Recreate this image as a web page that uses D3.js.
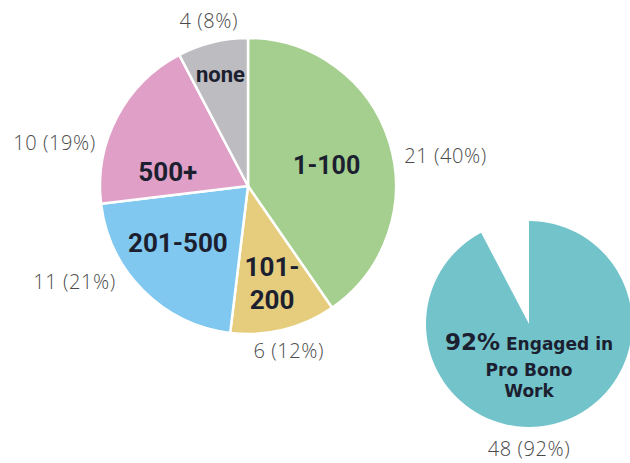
<!DOCTYPE html>
<html><head><meta charset="utf-8">
<script src="https://cdn.jsdelivr.net/npm/d3@7"></script>
<style>
html,body{margin:0;padding:0;background:#fff;}
</style></head>
<body><svg id="c" width="630" height="463"></svg>
<script>
const categories = ["1-100", "101-200", "201-500", "500+", "none"];
const counts = [21, 6, 11, 10, 4];
const percents = [40, 12, 21, 19, 8];
const colors = ["#a4cf8e", "#e6cd7d", "#80c8ef", "#e09fc6", "#bdbcc1"];
const engagedLabels = ["Engaged", "Not engaged"];
const engagedCounts = [48, 4];
const engagedPercents = [92, 8];

const svg = d3.select("#c");
const ink = "#1c1f30";
const grey = "#4a4a4a";
const font = "Roboto, 'Open Sans', sans-serif";
const deg = Math.PI / 180;

// main pie
const cx = 248, cy = 186, r = 148;
const pie = d3.pie().sort(null).value(d => d);
const arcs = pie(counts);
const arc = d3.arc().innerRadius(0).outerRadius(r);
const g = svg.append("g").attr("transform", `translate(${cx},${cy})`);
g.selectAll("path").data(arcs).join("path")
  .attr("d", arc)
  .attr("fill", (d, i) => colors[i])
  .attr("stroke", "#fff").attr("stroke-width", 2.5).attr("stroke-linejoin", "round");

function polar(d, offDeg, k) {
  const a = (d.startAngle + d.endAngle) / 2 + offDeg * deg;
  return [Math.sin(a) * r * k, -Math.cos(a) * r * k];
}

// inner label layout: angle offset from slice middle (deg), radius factor, size
const innerLayout = [
  {off: 2.5, k: 0.55, size: 25},
  {off: 0, k: 0.68, size: 26, lines: ["101-", "200"]},
  {off: 6, k: 0.61, size: 26},
  {off: -18, k: 0.55, size: 26},
  {off: 0, k: 0.78, size: 22}
];
arcs.forEach((d, i) => {
  const p = innerLayout[i];
  const [x, y] = polar(d, p.off, p.k);
  const lines = p.lines || [categories[i]];
  const t = g.append("text")
    .attr("text-anchor", "middle")
    .attr("font-family", font).attr("font-weight", 700)
    .attr("font-size", p.size).attr("fill", ink);
  const lh = 33;
  lines.forEach((ln, j) => {
    t.append("tspan").attr("x", x)
      .attr("y", y + (j - (lines.length - 1) / 2) * lh)
      .attr("dy", "0.35em")
      .text(ln);
  });
});

// outer labels
const outerLayout = [
  {off: 8.6, k: 1.35},
  {off: 0, k: 1.15},
  {off: 16, k: 1.34},
  {off: -15, k: 1.34},
  {off: 0.5, k: 1.15}
];
arcs.forEach((d, i) => {
  const [x, y] = polar(d, outerLayout[i].off, outerLayout[i].k);
  g.append("text")
    .attr("x", x).attr("y", y).attr("dy", "0.36em")
    .attr("text-anchor", "middle")
    .attr("font-family", "'Open Sans', sans-serif").attr("font-weight", 300)
    .attr("font-size", 20).attr("letter-spacing", 0.6).attr("fill", grey)
    .text(`${counts[i]} (${percents[i]}%)`);
});

// second pie
const cx2 = 529, cy2 = 324, r2 = 103;
const pie2 = d3.pie().sort(null).value(d => d);
const arcs2 = pie2(engagedCounts);
const g2 = svg.append("g").attr("transform", `translate(${cx2},${cy2})`);
g2.append("path").attr("d", d3.arc().innerRadius(0).outerRadius(r2)(arcs2[0]))
  .attr("fill", "#73c3cb");
const font2 = "'DejaVu Sans', sans-serif";
const t2 = g2.append("text").attr("text-anchor", "middle")
  .attr("font-family", font2).attr("font-weight", 700).attr("fill", ink);
t2.append("tspan").attr("x", 0).attr("y", 26).attr("font-size", 23).text(`${engagedPercents[0]}%`);
t2.append("tspan").attr("font-size", 17).attr("dx", 6).text("Engaged in");
t2.append("tspan").attr("x", 0).attr("y", 52).attr("font-size", 17).text("Pro Bono");
t2.append("tspan").attr("x", 0).attr("y", 73).attr("font-size", 17).text("Work");
g2.append("text").attr("x", 0).attr("y", r2 + 29)
  .attr("text-anchor", "middle")
  .attr("font-family", "'Open Sans', sans-serif").attr("font-weight", 300)
  .attr("font-size", 20).attr("letter-spacing", 0.6).attr("fill", grey)
  .text(`${engagedCounts[0]} (${engagedPercents[0]}%)`);
</script></body></html>
